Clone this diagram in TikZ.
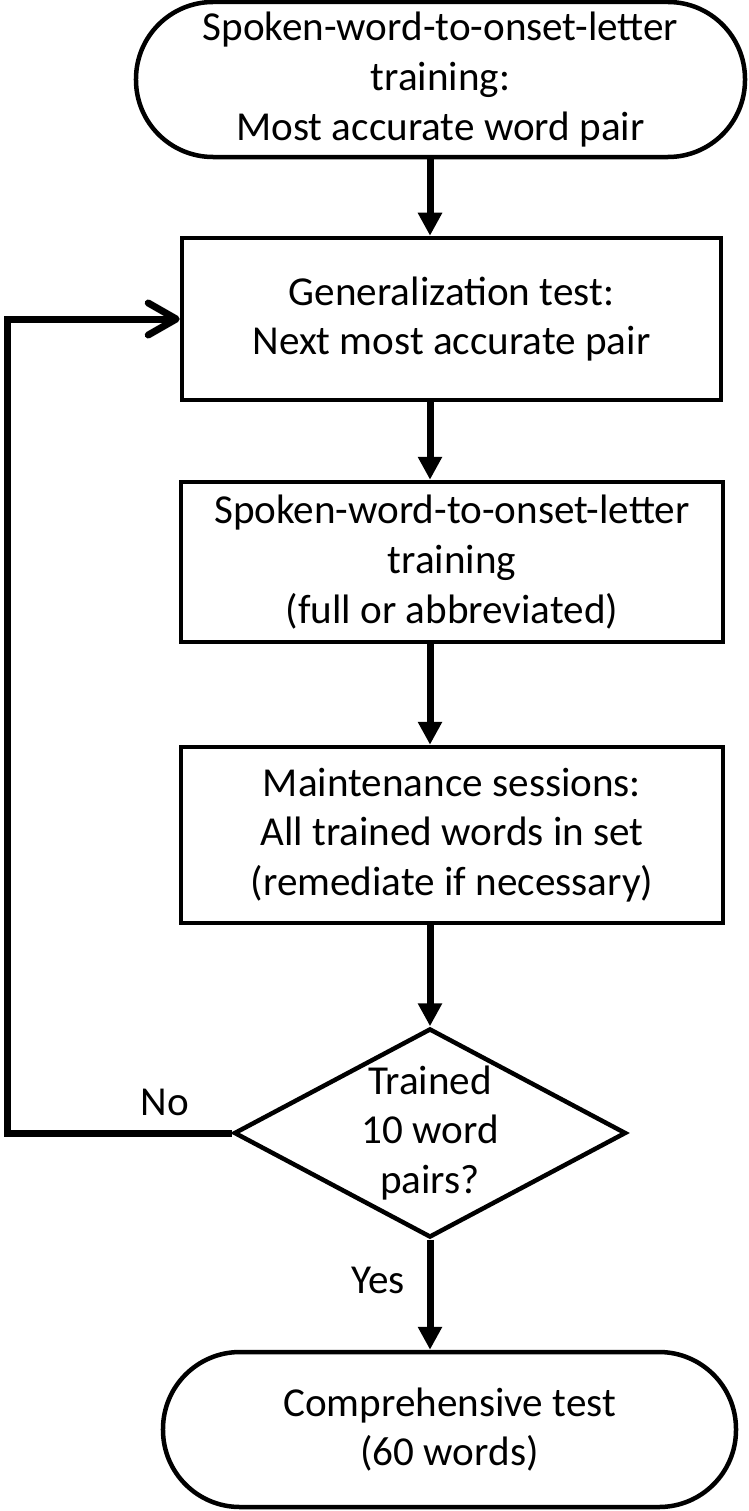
\documentclass[tikz,border=0pt]{standalone}
\usepackage{fontspec}
\setmainfont{Carlito}
\usepackage{tikz}
\usetikzlibrary{shapes.geometric,arrows.meta,positioning,calc}

\begin{document}
\begin{tikzpicture}[x=1bp, y=-1bp, font=\fontsize{41.3}{50}\selectfont,
    term/.style={draw, line width=4.5bp, rounded corners=77bp, align=center, inner sep=0pt},
    box/.style={draw, line width=4.5bp, align=center, inner sep=0pt},
    dec/.style={draw, diamond, line width=4.5bp, inner sep=0pt},
    flow/.style={line width=7bp, -{Triangle[length=23bp,width=23bp]}},
    back/.style={line width=7bp, -{Straight Barb[length=28bp,width=32bp,round]}}]
    \useasboundingbox (0,0) rectangle (749,1511);

    \node[term, minimum width=609bp, minimum height=155bp] (start) at (440.5,79.5) {Spoken-word-to-onset-letter\\training:\\Most accurate word pair};
    \node[box, minimum width=539bp, minimum height=162bp] (gen) at (451.5,319) {Generalization test:\\Next most accurate pair};
    \node[box, minimum width=542bp, minimum height=160bp] (train) at (452,562) {Spoken-word-to-onset-letter\\training\\(full or abbreviated)};
    \node[box, minimum width=542bp, minimum height=176bp] (maint) at (452,835) {Maintenance sessions:\\All trained words in set\\(remediate if necessary)};
    \node[dec, minimum width=392bp, minimum height=209bp] (check) at (430,1133) {};
    \node[align=center] (checktxt) at (check) {Trained\\10 word\\pairs?};
    \node[term, minimum width=573bp, minimum height=155bp] (final) at (449.5,1429.5) {Comprehensive test\\(60 words)};
    \node (no) at (165,1102) {No};
    \node (yes) at (378,1280) {Yes};
    \coordinate (corner) at (7,1133);

    \draw[flow] (start.south -| check) -- (gen.north -| check);
    \draw[flow] (gen.south -| check) -- (train.north -| check);
    \draw[flow] (train.south -| check) -- (maint.north -| check);
    \draw[flow] (maint.south -| check) -- (check.north);
    \draw[flow] (check.south) -- (final.north -| check);
    \draw[back] (check.west) -- (corner) |- (gen.west);
\end{tikzpicture}
\end{document}
